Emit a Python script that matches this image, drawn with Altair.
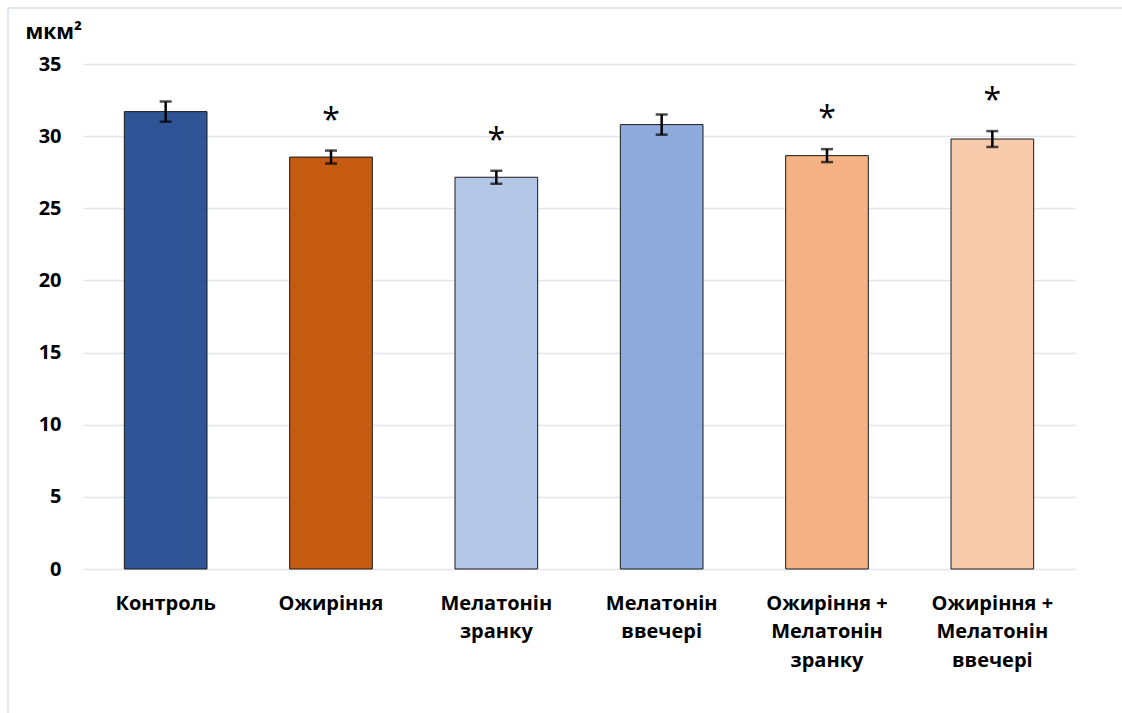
import altair as alt
import pandas as pd

# Group names (line breaks split the axis labels)
groups = [
    "Контроль",
    "Ожиріння",
    "Мелатонін\nзранку",
    "Мелатонін\nввечері",
    "Ожиріння +\nМелатонін\nзранку",
    "Ожиріння +\nМелатонін\nввечері",
]
means = [31.7, 28.55, 27.15, 30.8, 28.65, 29.8]
errors = [0.7, 0.45, 0.45, 0.7, 0.45, 0.55]
significant = [False, True, True, False, True, True]
colors = ["#2F5597", "#C55A11", "#B4C7E7", "#8FAADC", "#F4B183", "#F8CBAD"]

df = pd.DataFrame({
    "group": groups,
    "mean": means,
    "err": errors,
    "sig": significant,
})
df["lo"] = df["mean"] - df["err"]
df["hi"] = df["mean"] + df["err"]
df["star"] = ["*" if s else "" for s in significant]

FONT = "Open Sans"
W, H = 992, 505

x = alt.X(
    "group:N",
    sort=groups,
    scale=alt.Scale(paddingInner=0.5, paddingOuter=0.25),
    axis=alt.Axis(
        title=None,
        labelAngle=0,
        labelExpr="split(datum.label, '\\n')",
        labelFont=FONT,
        labelFontSize=20,
        labelFontWeight="bold",
        labelColor="#000000",
        labelPadding=24,
        labelLineHeight=28.5,
        labelBaseline="top",
        ticks=False,
        domain=False,
    ),
)

y_scale = alt.Scale(domain=[0, 35], nice=False)

bars = alt.Chart(df).mark_bar(stroke="#1a1a1a", strokeWidth=1).encode(
    x=x,
    y=alt.Y(
        "mean:Q",
        scale=y_scale,
        axis=alt.Axis(
            values=[0, 5, 10, 15, 20, 25, 30, 35],
            title="мкм²",
            titleAngle=0,
            titleX=-58,
            titleY=-26,
            titleAlign="left",
            titleBaseline="alphabetic",
            titleFont=FONT,
            titleFontSize=21,
            titleFontWeight="bold",
            titleColor="#000000",
            labelFont=FONT,
            labelFontSize=20,
            labelFontWeight="bold",
            labelColor="#000000",
            labelPadding=22,
            ticks=False,
            domain=False,
            grid=True,
            gridColor="#E1E5EC",
            gridWidth=1.5,
        ),
    ),
    color=alt.Color("group:N", sort=groups, scale=alt.Scale(domain=groups, range=colors), legend=None),
)

whisker = alt.Chart(df).mark_rule(color="#000000", strokeWidth=2.5).encode(
    x=alt.X("group:N", sort=groups),
    y=alt.Y("lo:Q", scale=y_scale),
    y2="hi:Q",
)
cap_hi = alt.Chart(df).mark_tick(color="#000000", thickness=2.5, size=12).encode(
    x=alt.X("group:N", sort=groups),
    y=alt.Y("hi:Q", scale=y_scale),
)
cap_lo = alt.Chart(df).mark_tick(color="#000000", thickness=2.5, size=12).encode(
    x=alt.X("group:N", sort=groups),
    y=alt.Y("lo:Q", scale=y_scale),
)

stars = alt.Chart(df).mark_text(
    font=FONT, fontSize=32, color="#000000", baseline="middle", dy=-30
).encode(
    x=alt.X("group:N", sort=groups),
    y=alt.Y("hi:Q", scale=y_scale),
    text="star:N",
)

# thin frame along the top and left of the figure
frame_top = alt.Chart(df).mark_rule(color="#E1E5EC", strokeWidth=1.5).encode(
    x=alt.value(-75), x2=alt.value(1045), y=alt.value(-56)
)
frame_left = alt.Chart(df).mark_rule(color="#E1E5EC", strokeWidth=1.5).encode(
    x=alt.value(-75), y=alt.value(-56), y2=alt.value(660)
)

chart = alt.layer(
    frame_top, frame_left, bars, whisker, cap_hi, cap_lo, stars
).properties(
    width=W,
    height=H,
    padding={"left": 83, "top": 64, "right": 47, "bottom": 144},
    autosize=alt.AutoSizeParams(type="none"),
    background="#FFFFFF",
).configure_view(stroke=None)

chart.save("out.html", embed_options={"renderer": "svg", "actions": False})
